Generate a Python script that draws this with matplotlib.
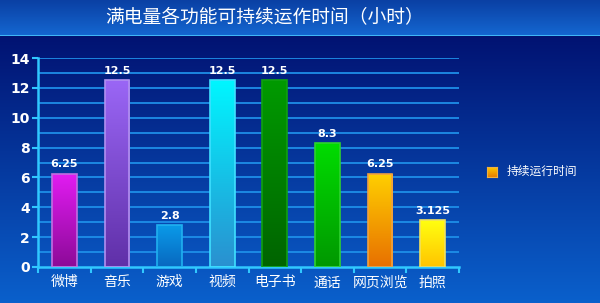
import numpy as np
import matplotlib
matplotlib.use("Agg")
import matplotlib.pyplot as plt
from matplotlib.colors import LinearSegmentedColormap, to_rgb

plt.rcParams['font.family'] = ['Noto Sans CJK SC', 'DejaVu Sans']

title = "满电量各功能可持续运作时间（小时）"
categories = ["微博", "音乐", "游戏", "视频", "电子书", "通话", "网页浏览", "拍照"]
values = [6.25, 12.5, 2.8, 12.5, 12.5, 8.3, 6.25, 3.125]
value_labels = ["6.25", "12.5", "2.8", "12.5", "12.5", "8.3", "6.25", "3.125"]
series_name = "持续运行时间"
yticks = [0, 2, 4, 6, 8, 10, 12, 14]

top_colors = ["#E21CF2", "#9A66F5", "#0A9AE8", "#00F6FF", "#009A00", "#00DC00", "#FFD000", "#FFFF10"]
bot_colors = ["#8C0A98", "#6030A8", "#0868C0", "#2A90D0", "#006400", "#009800", "#E87000", "#FFC400"]
edge_colors = ["#C070E0", "#B090F0", "#20B0F0", "#40E0FF", "#10A010", "#30D030", "#F0A040", "#F0E060"]

W, H = 600, 303
fig = plt.figure(figsize=(6, 3.03), dpi=100)

# background
bg = fig.add_axes([0, 0, 1, 1], zorder=-10)
bg.set_axis_off()
ny = 303
grad = np.zeros((ny, 1, 3))
c_top = np.array(to_rgb("#000866"))
c_bot = np.array(to_rgb("#0A60CC"))
for i in range(ny):
    t = i / (ny - 1)
    grad[i, 0] = c_top * (1 - t) + c_bot * t
# title band
band_top = np.array(to_rgb("#0A40A4"))
band_bot = np.array(to_rgb("#1466D0"))
for i in range(35):
    t = i / 34
    grad[i, 0] = band_top * (1 - t) + band_bot * t
grad[35, 0] = to_rgb("#40B8F8")
bg.imshow(grad, aspect='auto', extent=[0, 1, 0, 1], interpolation='bilinear')
bg.set_xlim(0, 1)
bg.set_ylim(0, 1)

fig.text(265 / W, 1 - 17 / H, title, color="white", fontsize=13.5, ha="center", va="center")

ax = fig.add_axes([38 / W, 1 - 267 / H, 421 / W, 209 / H])
ax.patch.set_alpha(0)
x = np.arange(len(categories))
ax.set_xlim(-0.5, len(categories) - 0.5)
ax.set_ylim(0, 14)

for yv in range(1, 15):
    ax.axhline(yv, color="#1E8EE8", lw=1.3, zorder=1)

bars = ax.bar(x, values, width=0.47, zorder=3)
for i, b in enumerate(bars):
    b.set_facecolor("none")
    b.set_edgecolor(edge_colors[i])
    b.set_linewidth(1.2)
    cmap = LinearSegmentedColormap.from_list("g%d" % i, [bot_colors[i], top_colors[i]])
    gvals = np.linspace(0, 1, 100).reshape(-1, 1)
    im = ax.imshow(gvals, cmap=cmap, origin='lower', aspect='auto',
                   extent=[b.get_x(), b.get_x() + b.get_width(), 0, b.get_height()],
                   zorder=2)
    im.set_clip_path(b)
    ax.text(b.get_x() + b.get_width() / 2, values[i] + 0.3, value_labels[i],
            color="white", fontsize=8, fontweight="bold", ha="center", va="bottom",
            family="DejaVu Sans", zorder=4)
ax.set_xlim(-0.5, len(categories) - 0.5)
ax.set_ylim(0, 14)

for s in ["top", "right"]:
    ax.spines[s].set_visible(False)
for s in ["left", "bottom"]:
    ax.spines[s].set_color("#30C8FF")
    ax.spines[s].set_linewidth(1.8)

ax.set_yticks(yticks)
ax.set_yticklabels([str(v) for v in yticks], color="white", fontsize=10, fontweight="bold",
                   family="DejaVu Sans")
ax.tick_params(axis='y', colors="#30C8FF", length=4, width=1.5, labelcolor="white", pad=2)
ax.set_xticks(x)
ax.set_xticklabels(categories, color="white", fontsize=10)
ax.tick_params(axis='x', which='major', length=0, pad=6, labelcolor="white")
ax.set_xticks(np.arange(-0.5, len(categories), 1.0), minor=True)
ax.tick_params(axis='x', which='minor', length=4, width=1.5, colors="#30C8FF")

# legend
lax = fig.add_axes([487 / W, 1 - 177 / H, 10 / W, 10 / H])
lgrad = np.linspace(0, 1, 20).reshape(-1, 1)
lcmap = LinearSegmentedColormap.from_list("lg", ["#E88000", "#FFD000"])
lax.imshow(lgrad, cmap=lcmap, origin='lower', aspect='auto')
lax.set_xticks([])
lax.set_yticks([])
for s in lax.spines.values():
    s.set_color("#F0B040")
    s.set_linewidth(0.8)
fig.text(507 / W, 1 - 171 / H, series_name, color="white", fontsize=8.5, ha="left", va="center")

fig.savefig("out.png", dpi=100)
